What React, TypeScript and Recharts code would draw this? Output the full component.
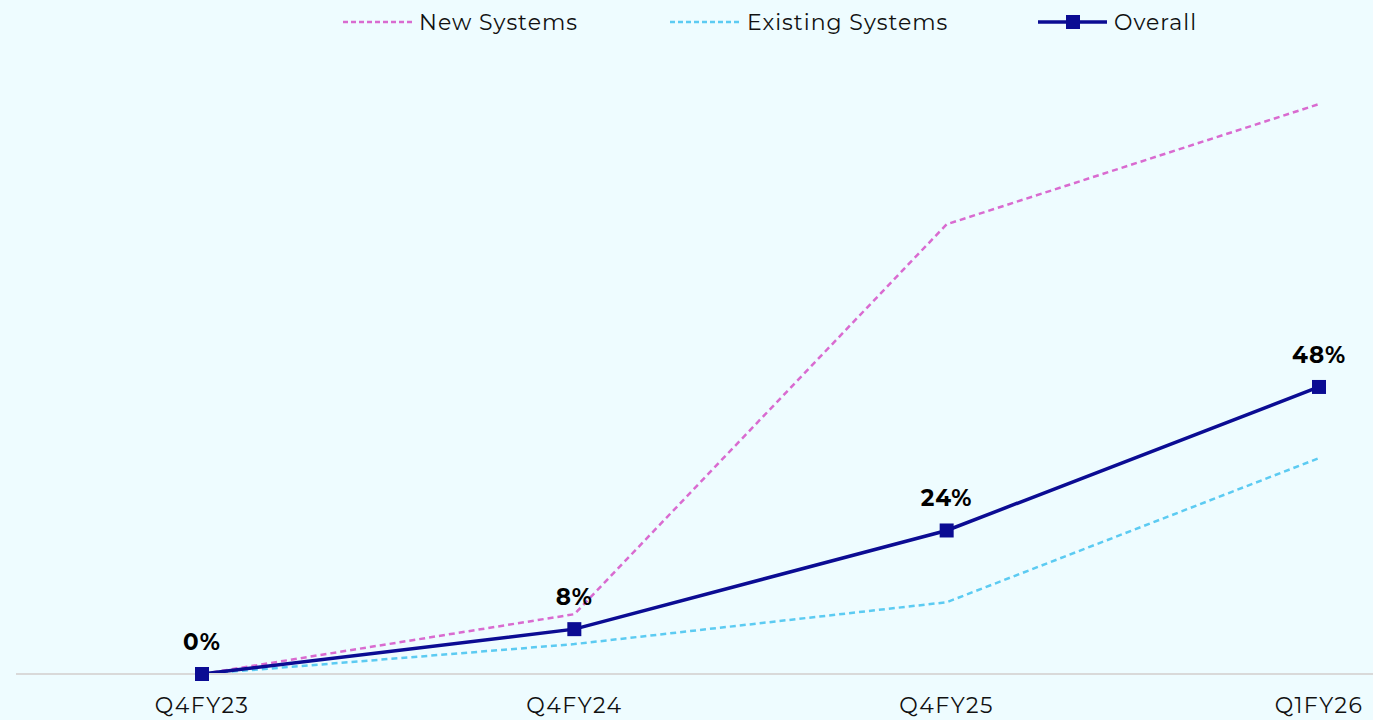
import React from "react";
import { LineChart, Line, XAxis, YAxis, LabelList } from "recharts";

const categories = ["Q4FY23", "Q4FY24", "Q4FY25", "Q1FY26"];
const newSystems = [0, 10, 75.2, 95.3];
const existingSystems = [0, 5, 12, 36.1];
const overall = [0, 7.5, 24, 48];

const data = categories.map((c, i) => ({
  name: c,
  newSys: newSystems[i],
  existing: existingSystems[i],
  overall: overall[i],
}));

const FONT = "Montserrat, 'Open Sans', Lato, sans-serif";
const PINK = "#D96BD0";
const BLUE = "#5CCBF2";
const NAVY = "#0B0C93";
const DASH = "6 4";

const SquareDot = (props: any) => {
  const { cx, cy } = props;
  if (cx == null || cy == null) return null;
  return <rect x={cx - 7} y={cy - 7} width={14} height={14} fill={NAVY} />;
};

const legendItems = [
  { label: "New Systems", x: 343, color: PINK, dash: "5 3", marker: false, tx: 419 },
  { label: "Existing Systems", x: 670, color: BLUE, dash: "5 3", marker: false, tx: 747 },
  { label: "Overall", x: 1038, color: NAVY, dash: undefined, marker: true, tx: 1114 },
];

const LegendSvg = () => (
  <svg width={1373} height={44} style={{ position: "absolute", left: 0, top: 0 }}>
    {legendItems.map((it) => (
      <g key={it.label}>
        <line x1={it.x} y1={22} x2={it.x + 69} y2={22} stroke={it.color} strokeWidth={it.marker ? 3.5 : 2.5} strokeDasharray={it.dash} />
        {it.marker && <rect x={it.x + 28} y={15} width={14} height={14} fill={NAVY} />}
        <text x={it.tx} y={22} dominantBaseline="central" fontSize={22} letterSpacing={1} fontFamily={FONT} fill="#111">
          {it.label}
        </text>
      </g>
    ))}
  </svg>
);

export default function App() {
  return (
    <div style={{ position: "absolute", left: 0, top: 0, width: 1373, height: 720, background: "#EEFCFF" }}>
      <LineChart width={1373} height={720} data={data} margin={{ top: 76, right: 0, bottom: 0, left: 16 }}>
        <XAxis
          dataKey="name"
          padding={{ left: 186, right: 54 }}
          height={46}
          axisLine={{ stroke: "#D9D9D9", strokeWidth: 2 }}
          tickLine={false}
          tick={{ fontSize: 22, fontFamily: FONT, fill: "#111", letterSpacing: 1.5 }}
          tickMargin={17}
        />
        <YAxis hide domain={[0, 100]} />
        <Line type="linear" dataKey="newSys" stroke={PINK} strokeWidth={2.5} strokeDasharray={DASH} dot={false} isAnimationActive={false} />
        <Line type="linear" dataKey="existing" stroke={BLUE} strokeWidth={2.5} strokeDasharray={DASH} dot={false} isAnimationActive={false} />
        <Line type="linear" dataKey="overall" stroke={NAVY} strokeWidth={3.5} dot={<SquareDot />} isAnimationActive={false}>
          <LabelList
            dataKey="overall"
            position="top"
            offset={24}
            formatter={(v: any) => `${Math.round(Number(v))}%`}
            style={{ fontSize: 23, fontWeight: 700, fontFamily: FONT, fill: "#000", letterSpacing: 1 }}
          />
        </Line>
      </LineChart>
      <LegendSvg />
    </div>
  );
}
